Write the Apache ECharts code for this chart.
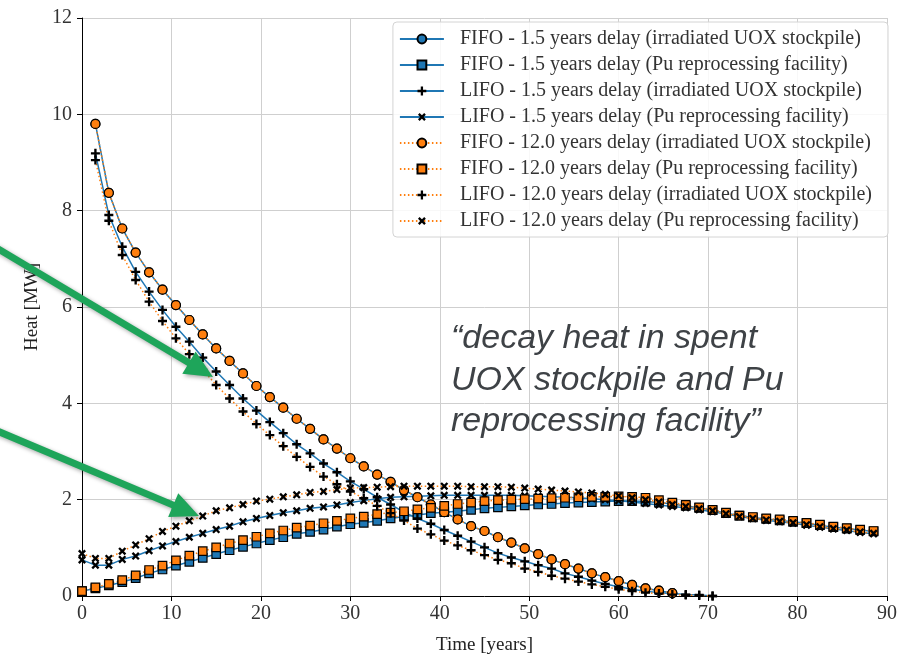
<!DOCTYPE html>
<html><head><meta charset="utf-8">
<script src="https://cdn.jsdelivr.net/npm/echarts@6/dist/echarts.min.js"></script>
<style>html,body{margin:0;padding:0;background:#fff}#c{width:905px;height:658px}</style>
</head><body><div id="c"></div>
<script>
// ---- data (years, MW) ----
const timePu = [0,1.5,3,4.5,6,7.5,9,10.5,12,13.5,15,16.5,18,19.5,21,22.5,24,25.5,27,28.5,30,31.5,33,34.5,36,37.5,39,40.5,42,43.5,45,46.5,48,49.5,51,52.5,54,55.5,57,58.5,60,61.5,63,64.5,66,67.5,69,70.5,72,73.5,75,76.5,78,79.5,81,82.5,84,85.5,87,88.5];
const timeUoxFifo = [1.5,3,4.5,6,7.5,9,10.5,12,13.5,15,16.5,18,19.5,21,22.5,24,25.5,27,28.5,30,31.5,33,34.5,36,37.5,39,40.5,42,43.5,45,46.5,48,49.5,51,52.5,54,55.5,57,58.5,60,61.5,63,64.5,66];
const timeUoxLifo = [1.5,3,4.5,6,7.5,9,10.5,12,13.5,15,16.5,18,19.5,21,22.5,24,25.5,27,28.5,30,31.5,33,34.5,36,37.5,39,40.5,42,43.5,45,46.5,48,49.5,51,52.5,54,55.5,57,58.5,60,61.5,63,64.5,66,67.5,69,70.5];

const fifo15Uox = [9.80,8.37,7.63,7.13,6.72,6.36,6.04,5.73,5.43,5.14,4.88,4.62,4.36,4.13,3.91,3.68,3.47,3.25,3.06,2.86,2.69,2.52,2.37,2.20,2.05,1.90,1.74,1.59,1.45,1.35,1.22,1.11,0.99,0.87,0.76,0.66,0.57,0.47,0.39,0.31,0.23,0.16,0.11,0.06];
const fifo12Uox = [9.80,8.37,7.63,7.13,6.72,6.36,6.04,5.73,5.43,5.14,4.88,4.62,4.36,4.13,3.91,3.68,3.47,3.25,3.06,2.86,2.69,2.52,2.37,2.20,2.05,1.90,1.74,1.59,1.45,1.35,1.22,1.11,0.99,0.87,0.76,0.66,0.57,0.47,0.39,0.31,0.23,0.16,0.11,0.06];
const lifo15Uox = [9.19,7.91,7.25,6.73,6.32,5.94,5.59,5.28,4.95,4.66,4.38,4.10,3.85,3.61,3.38,3.15,2.96,2.75,2.57,2.38,2.22,2.05,1.90,1.74,1.61,1.50,1.37,1.25,1.13,1.01,0.89,0.80,0.72,0.64,0.57,0.47,0.40,0.32,0.25,0.19,0.14,0.10,0.07,0.05,0.03,0.02,0.00];
const lifo12Uox = [9.05,7.79,7.08,6.56,6.11,5.71,5.35,5.02,4.70,4.38,4.10,3.83,3.57,3.34,3.11,2.89,2.68,2.48,2.32,2.17,2.03,1.87,1.72,1.57,1.40,1.28,1.15,1.05,0.95,0.85,0.75,0.68,0.57,0.50,0.42,0.36,0.30,0.24,0.19,0.14,0.10,0.07,0.05,0.03,0.02,0.01,0.00];
const fifo15Pu = [0.10,0.16,0.22,0.29,0.37,0.47,0.55,0.63,0.71,0.79,0.87,0.95,1.02,1.09,1.16,1.22,1.29,1.33,1.38,1.44,1.49,1.52,1.56,1.61,1.65,1.68,1.72,1.74,1.76,1.79,1.82,1.84,1.86,1.88,1.90,1.91,1.93,1.94,1.95,1.96,1.97,1.97,1.96,1.94,1.91,1.87,1.83,1.78,1.72,1.67,1.63,1.60,1.57,1.54,1.51,1.47,1.43,1.40,1.37,1.34];
const fifo12Pu = [0.10,0.18,0.25,0.33,0.43,0.54,0.63,0.74,0.84,0.93,1.01,1.09,1.16,1.23,1.30,1.36,1.42,1.46,1.51,1.56,1.61,1.65,1.70,1.73,1.76,1.80,1.83,1.87,1.91,1.94,1.97,1.99,2.00,2.01,2.02,2.03,2.04,2.05,2.06,2.06,2.07,2.06,2.04,1.99,1.94,1.89,1.84,1.79,1.73,1.67,1.64,1.61,1.59,1.56,1.52,1.48,1.44,1.41,1.38,1.35];
const lifo15Pu = [0.75,0.64,0.64,0.76,0.83,0.94,1.04,1.13,1.22,1.30,1.38,1.45,1.54,1.61,1.67,1.73,1.77,1.82,1.85,1.89,1.94,1.98,2.02,2.05,2.06,2.07,2.08,2.09,2.09,2.09,2.09,2.09,2.09,2.08,2.07,2.06,2.05,2.04,2.02,2.00,1.98,1.95,1.92,1.89,1.86,1.83,1.79,1.75,1.70,1.65,1.61,1.57,1.54,1.51,1.47,1.43,1.39,1.36,1.32,1.29];
const lifo12Pu = [0.88,0.78,0.78,0.93,1.06,1.19,1.34,1.45,1.56,1.66,1.77,1.83,1.90,1.97,2.01,2.06,2.10,2.15,2.17,2.21,2.24,2.25,2.26,2.27,2.28,2.28,2.28,2.28,2.28,2.27,2.27,2.27,2.26,2.24,2.22,2.20,2.18,2.16,2.14,2.11,2.08,2.04,2.00,1.95,1.90,1.86,1.81,1.77,1.71,1.65,1.61,1.58,1.55,1.52,1.48,1.44,1.40,1.37,1.33,1.30];

const names = [
  'FIFO - 1.5 years delay (irradiated UOX stockpile)',
  'FIFO - 1.5 years delay (Pu reprocessing facility)',
  'LIFO - 1.5 years delay (irradiated UOX stockpile)',
  'LIFO - 1.5 years delay (Pu reprocessing facility)',
  'FIFO - 12.0 years delay (irradiated UOX stockpile)',
  'FIFO - 12.0 years delay (Pu reprocessing facility)',
  'LIFO - 12.0 years delay (irradiated UOX stockpile)',
  'LIFO - 12.0 years delay (Pu reprocessing facility)'
];
const xTicks = [0,10,20,30,40,50,60,70,80,90];
const yTicks = [0,2,4,6,8,10,12];
const annotation = ['\u201Cdecay heat in spent', 'UOX stockpile and Pu', 'reprocessing facility\u201D'];

// ---- chart ----
const BLUE = '#1f77b4', ORANGE = '#ff7f0e';
const PLUS = 'path://M0,3.7H10V6.3H0Z M3.7,0H6.3V10H3.7Z';
function pairs(t, v) { return v.map((y, i) => [t[i], y]); }
function mk(name, t, v, color, dotted, sym) {
  const isPath = sym === 'plus' || sym === 'cross';
  return {
    name, type: 'line', data: pairs(t, v),
    symbol: isPath ? PLUS : sym,
    symbolSize: isPath ? 9 : (sym === 'rect' ? 8.5 : 9),
    symbolRotate: sym === 'cross' ? 45 : 0,
    showAllSymbol: true,
    lineStyle: { color, width: 1.5, type: dotted ? [1.5, 2.5] : 'solid' },
    itemStyle: isPath ? { color: '#000', borderWidth: 0 } : { color, borderColor: '#000', borderWidth: 1.2 },
    emphasis: { disabled: true },
    animation: false
  };
}
const series = [
  mk(names[0], timeUoxFifo, fifo15Uox, BLUE, false, 'circle'),
  mk(names[1], timePu, fifo15Pu, BLUE, false, 'rect'),
  mk(names[2], timeUoxLifo, lifo15Uox, BLUE, false, 'plus'),
  mk(names[3], timePu, lifo15Pu, BLUE, false, 'cross'),
  mk(names[4], timeUoxFifo, fifo12Uox, ORANGE, true, 'circle'),
  mk(names[5], timePu, fifo12Pu, ORANGE, true, 'rect'),
  mk(names[6], timeUoxLifo, lifo12Uox, ORANGE, true, 'plus'),
  mk(names[7], timePu, lifo12Pu, ORANGE, true, 'cross')
];

function arrowPts(x0, y0, x1, y1, shaft, hl, hw) {
  const dx = x1 - x0, dy = y1 - y0, L = Math.hypot(dx, dy);
  const ux = dx / L, uy = dy / L, nx = -uy, ny = ux;
  const bx = x1 - ux * hl, by = y1 - uy * hl;
  return [
    [x0 + nx * shaft / 2, y0 + ny * shaft / 2],
    [bx + nx * shaft / 2, by + ny * shaft / 2],
    [bx + nx * hw / 2, by + ny * hw / 2],
    [x1, y1],
    [bx - nx * hw / 2, by - ny * hw / 2],
    [bx - nx * shaft / 2, by - ny * shaft / 2],
    [x0 - nx * shaft / 2, y0 - ny * shaft / 2]
  ];
}
const GREEN = '#1ea55a';
const arrowStyle = { fill: GREEN, shadowBlur: 4, shadowColor: 'rgba(0,0,0,0.35)', shadowOffsetX: 2, shadowOffsetY: 2 };

const serif = 'Liberation Serif';
const option = {
  animation: false,
  backgroundColor: '#fff',
  grid: { left: 82, right: 18, top: 18, bottom: 62, outerBoundsMode: 'none', containLabel: false },
  xAxis: {
    type: 'value', min: xTicks[0], max: xTicks[xTicks.length - 1], interval: 10,
    name: 'Time [years]', nameLocation: 'middle', nameGap: 40,
    nameTextStyle: { fontFamily: serif, fontSize: 19, color: '#222' },
    axisLine: { show: true, onZero: false, lineStyle: { color: '#000', width: 1 } },
    axisTick: { show: true, length: 5, lineStyle: { color: '#000' } },
    axisLabel: { fontFamily: serif, fontSize: 20, color: '#333', margin: 8 },
    splitLine: { show: true, lineStyle: { color: '#cfcfcf', width: 1 } }
  },
  yAxis: {
    type: 'value', min: yTicks[0], max: yTicks[yTicks.length - 1], interval: 2,
    name: 'Heat [MW]', nameLocation: 'middle', nameGap: 40,
    nameTextStyle: { fontFamily: serif, fontSize: 19, color: '#222' },
    axisLine: { show: true, onZero: false, lineStyle: { color: '#000', width: 1 } },
    axisTick: { show: true, length: 5, lineStyle: { color: '#000' } },
    axisLabel: { fontFamily: serif, fontSize: 20, color: '#333', margin: 10 },
    splitLine: { show: true, lineStyle: { color: '#cfcfcf', width: 1 } }
  },
  legend: {
    orient: 'vertical', right: 17, top: 22, data: names, selectedMode: false,
    itemWidth: 44, itemHeight: 11, itemGap: 6,
    padding: [7, 16, 6, 6],
    backgroundColor: 'rgba(255,255,255,0.85)', borderColor: '#d4d4d4', borderWidth: 1, borderRadius: 4,
    textStyle: { fontFamily: serif, fontSize: 20, color: '#333', padding: [0, 0, 0, 11] }
  },
  graphic: [
    { type: 'text', z: 50, style: { text: annotation[0], x: 451, y: 339, verticalAlign: 'middle', font: 'italic 34px "Liberation Sans"', fill: '#3e4246' } },
    { type: 'text', z: 50, style: { text: annotation[1], x: 451, y: 381, verticalAlign: 'middle', font: 'italic 34px "Liberation Sans"', fill: '#3e4246' } },
    { type: 'text', z: 50, style: { text: annotation[2], x: 451, y: 422, verticalAlign: 'middle', font: 'italic 34px "Liberation Sans"', fill: '#3e4246' } },
    { type: 'polygon', z: 100, shape: { points: arrowPts(-5, 247, 213, 377, 7, 28, 26) }, style: arrowStyle },
    { type: 'polygon', z: 100, shape: { points: arrowPts(-5, 430, 199, 516, 7, 28, 26) }, style: arrowStyle }
  ],
  series
};
const chart = echarts.init(document.getElementById('c'));
chart.setOption(option);
</script></body></html>
